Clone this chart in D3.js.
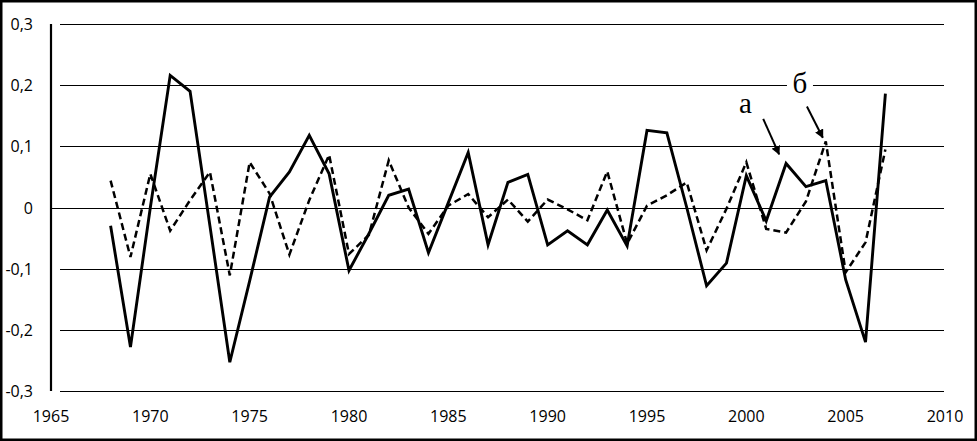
<!DOCTYPE html>
<html>
<head>
  <meta charset="utf-8">
  <title>Anomalies 1968-2007</title>
  <script src="https://d3js.org/d3.v7.min.js"></script>
  <style>
    body { margin: 0; background: #fff; }
    .tick-label { font-family: "Open Sans", sans-serif; font-size: 16px; fill: #000; }
    .grid { stroke: #000; stroke-width: 1px; shape-rendering: crispEdges; }
    .note { font-family: "Liberation Serif", "Times New Roman", serif; font-size: 29px; fill: #000; }
  </style>
</head>
<body>
  <script>
    var years = [1968, 1969, 1970, 1971, 1972, 1973, 1974, 1975, 1976, 1977,
                 1978, 1979, 1980, 1981, 1982, 1983, 1984, 1985, 1986, 1987,
                 1988, 1989, 1990, 1991, 1992, 1993, 1994, 1995, 1996, 1997,
                 1998, 1999, 2000, 2001, 2002, 2003, 2004, 2005, 2006, 2007];

    // curve "a" (solid)
    var seriesA = [-0.030, -0.228, 0.000, 0.216, 0.190, -0.030, -0.253, -0.120, 0.017, 0.058,
                   0.118, 0.055, -0.103, -0.043, 0.020, 0.030, -0.074, 0.008, 0.090, -0.061,
                   0.041, 0.054, -0.061, -0.038, -0.061, -0.004, -0.063, 0.126, 0.122, 0.000,
                   -0.128, -0.091, 0.052, -0.022, 0.072, 0.034, 0.044, -0.118, -0.220, 0.186];

    // curve "б" (dashed)
    var seriesB = [0.044, -0.081, 0.055, -0.038, 0.012, 0.058, -0.111, 0.074, 0.023, -0.077,
                   0.012, 0.086, -0.076, -0.045, 0.077, 0.000, -0.043, 0.003, 0.022, -0.016,
                   0.013, -0.023, 0.013, -0.003, -0.021, 0.059, -0.059, 0.003, 0.020, 0.041,
                   -0.070, -0.002, 0.074, -0.035, -0.041, 0.010, 0.108, -0.106, -0.057, 0.095];

    var xTicks = [1965, 1970, 1975, 1980, 1985, 1990, 1995, 2000, 2005, 2010];
    var yTicks = [-0.3, -0.2, -0.1, 0, 0.1, 0.2, 0.3];

    // annotation labels and arrows, in data units (year, value)
    var labels = [
      {text: "а", year: 1999.95, value: 0.154, knockout: false},
      {text: "б", year: 2002.70, value: 0.188, knockout: true}
    ];
    var arrows = [
      {from: [2000.85, 0.145], to: [2001.65, 0.087]},
      {from: [2003.05, 0.165], to: [2003.85, 0.114]}
    ];

    var width = 977, height = 441;

    var x = d3.scaleLinear()
        .domain([1965, 2010])
        .range([51, 945]);

    var y = d3.scaleLinear()
        .domain([-0.3, 0.3])
        .range([391, 24]);

    var svg = d3.select("body").append("svg")
        .attr("width", width)
        .attr("height", height);

    svg.append("rect")
        .attr("width", width)
        .attr("height", height)
        .attr("fill", "#fff");

    var defs = svg.append("defs");
    defs.append("marker")
        .attr("id", "head")
        .attr("viewBox", "0 0 10 10")
        .attr("refX", 9)
        .attr("refY", 5)
        .attr("markerWidth", 4.5)
        .attr("markerHeight", 4.5)
        .attr("markerUnits", "strokeWidth")
        .attr("orient", "auto")
      .append("path")
        .attr("d", "M0,0 L10,5 L0,10 z")
        .attr("fill", "#000");

    // horizontal gridlines (zero line doubles as the x axis)
    svg.append("g").selectAll("line")
        .data(yTicks)
      .enter().append("line")
        .attr("class", "grid")
        .attr("x1", function(d) { return d === 0 ? x(1965) : x(1965) + 9; })
        .attr("x2", x(2010) - 1)
        .attr("y1", function(d) { return Math.round(y(d)) + 0.5; })
        .attr("y2", function(d) { return Math.round(y(d)) + 0.5; });

    // y axis line
    svg.append("line")
        .attr("x1", x(1965)).attr("x2", x(1965))
        .attr("y1", y(0.3)).attr("y2", y(-0.3))
        .attr("stroke", "#000")
        .attr("stroke-width", 2.2);

    // y tick labels
    var fmt = function(d) { return d === 0 ? "0" : d3.format(".1f")(d).replace(".", ",").replace("−", "-"); };
    svg.append("g").selectAll("text")
        .data(yTicks)
      .enter().append("text")
        .attr("class", "tick-label")
        .attr("x", 33)
        .attr("y", function(d) { return y(d) + 6; })
        .attr("text-anchor", "end")
        .text(fmt);

    // x tick labels
    svg.append("g").selectAll("text")
        .data(xTicks)
      .enter().append("text")
        .attr("class", "tick-label")
        .attr("x", function(d) { return x(d); })
        .attr("y", 422)
        .attr("text-anchor", "middle")
        .text(function(d) { return d; });

    var line = d3.line()
        .x(function(d) { return x(d[0]); })
        .y(function(d) { return y(d[1]); });

    svg.append("path")
        .datum(d3.zip(years, seriesB))
        .attr("fill", "none")
        .attr("stroke", "#000")
        .attr("stroke-width", 2.5)
        .attr("stroke-dasharray", "7,4")
        .attr("d", line);

    svg.append("path")
        .datum(d3.zip(years, seriesA))
        .attr("fill", "none")
        .attr("stroke", "#000")
        .attr("stroke-width", 2.9)
        .attr("stroke-linejoin", "miter")
        .attr("d", line);

    // annotations
    labels.forEach(function(l) {
      if (l.knockout) {
        svg.append("rect")
          .attr("x", x(l.year) - 13)
          .attr("y", y(l.value) - 24)
          .attr("width", 26)
          .attr("height", 28)
          .attr("fill", "#fff");
      }
      svg.append("text")
        .attr("class", "note")
        .attr("x", x(l.year))
        .attr("y", y(l.value))
        .attr("text-anchor", "middle")
        .text(l.text);
    });

    svg.append("g").selectAll("line")
        .data(arrows)
      .enter().append("line")
        .attr("x1", function(d) { return x(d.from[0]); })
        .attr("y1", function(d) { return y(d.from[1]); })
        .attr("x2", function(d) { return x(d.to[0]); })
        .attr("y2", function(d) { return y(d.to[1]); })
        .attr("stroke", "#000")
        .attr("stroke-width", 2)
        .attr("marker-end", "url(#head)");

    // outer frame
    svg.append("rect")
        .attr("x", 1.25)
        .attr("y", 1.25)
        .attr("width", width - 2.5)
        .attr("height", height - 2.5)
        .attr("fill", "none")
        .attr("stroke", "#000")
        .attr("stroke-width", 2.5);
  </script>
</body>
</html>
